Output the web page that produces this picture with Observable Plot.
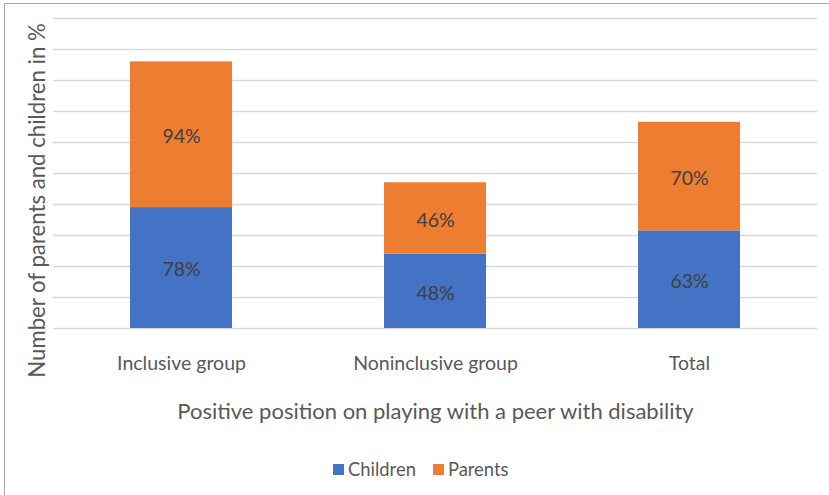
<!DOCTYPE html>
<html>
<head>
<meta charset="utf-8">
<script src="https://cdn.jsdelivr.net/npm/d3@7"></script>
<script src="https://cdn.jsdelivr.net/npm/@observablehq/plot@0.6"></script>
<style>
  html, body { margin: 0; padding: 0; background: #fff; }
  #chart { position: relative; width: 829px; height: 495px; overflow: hidden; font-family: Lato, "Open Sans", sans-serif; }
  #frame { position: absolute; left: 4px; top: 3px; width: 840px; height: 500px;
           border-left: 1px solid #a6a6a6; border-top: 1px solid #a6a6a6; box-sizing: border-box; }
  #plot { position: absolute; left: 0; top: 0; }
  #legend { position: absolute; left: 333px; top: 458px; display: flex; align-items: center;
            font-size: 18.4px; color: #595959; }
  #legend .sw { width: 11px; height: 11px; display: inline-block; margin-right: 4px; }
  #legend .item { display: flex; align-items: center; margin-right: 17px; }
</style>
</head>
<body>
<div id="chart">
  <div id="frame"></div>
  <div id="plot"></div>
  <div id="legend"></div>
</div>
<script>
// Groups along the x axis
const groups = ["Inclusive group", "Noninclusive group", "Total"];
// Series, stacked bottom to top
const seriesNames = ["Children", "Parents"];
const seriesColors = ["#4472C4", "#ED7D31"];
// Share (%) with a positive position, per series and group
const children = [78, 48, 63];
const parents = [94, 46, 70];

const yTicks = d3.range(0, 201, 20);

const rows = [];
groups.forEach((g, i) => rows.push({group: g, series: "Children", value: children[i]}));
groups.forEach((g, i) => rows.push({group: g, series: "Parents", value: parents[i]}));

const chart = Plot.plot({
  width: 829,
  height: 445,
  marginLeft: 53,
  marginRight: 12,
  marginTop: 18,
  marginBottom: 117,
  style: {fontFamily: "Lato, 'Open Sans', sans-serif", background: "transparent"},
  x: {domain: groups, paddingInner: 0.6, paddingOuter: 0.3, label: null},
  y: {domain: [0, 200], ticks: yTicks, label: null, axis: null},
  color: {domain: seriesNames, range: seriesColors},
  marks: [
    Plot.gridY(yTicks, {stroke: "#d9d9d9", strokeOpacity: 1, strokeWidth: 1.4}),
    Plot.barY(rows, Plot.stackY({x: "group", y: "value", z: "series", fill: "series", order: seriesNames})),
    Plot.text(rows, Plot.stackY({x: "group", y: "value", z: "series", order: seriesNames,
      text: d => d.value + "%", fill: "#404040", fontSize: 19.5, dy: 2})),
    Plot.axisX({tickSize: 0, tickPadding: 28, fontSize: 19.5, color: "#595959", label: null}),
    Plot.text(["Positive position on playing with a peer with disability"], {
      frameAnchor: "bottom", dy: 83, lineAnchor: "middle", fontSize: 22, fill: "#595959"}),
    Plot.text(["Number of parents and children in %"], {
      frameAnchor: "left", rotate: -90, dx: -16, dy: 27, lineAnchor: "middle", textAnchor: "middle",
      fontSize: 22.2, fill: "#595959"})
  ]
});
document.getElementById("plot").appendChild(chart);

// Legend below the chart
const legend = document.getElementById("legend");
seriesNames.forEach((name, i) => {
  const item = document.createElement("span");
  item.className = "item";
  const sw = document.createElement("span");
  sw.className = "sw";
  sw.style.background = seriesColors[i];
  item.appendChild(sw);
  item.appendChild(document.createTextNode(name));
  legend.appendChild(item);
});
</script>
</body>
</html>
